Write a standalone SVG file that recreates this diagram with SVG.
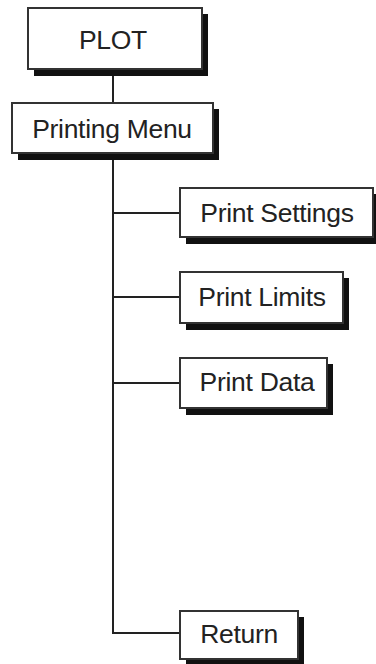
<svg xmlns="http://www.w3.org/2000/svg" width="376" height="664" viewBox="0 0 376 664">
<style>
.box{fill:#fff;stroke:#333;stroke-width:2}
.sh{fill:#111}
.t{font-family:"Liberation Sans",Arial,sans-serif;font-size:26.5px;fill:#222;text-anchor:middle;dominant-baseline:central;letter-spacing:-0.3px}
.c{stroke:#222;stroke-width:2;fill:none}
</style>
<rect width="376" height="664" fill="#fff"/>
<g id="connectors">
<line class="c" x1="113" y1="69" x2="113" y2="103"/>
<polyline class="c" points="113,153 113,633 180,633"/>
<line class="c" x1="113" y1="213" x2="180" y2="213"/>
<line class="c" x1="113" y1="297" x2="180" y2="297"/>
<line class="c" x1="113" y1="383" x2="180" y2="383"/>
</g>
<g id="plot">
<rect class="sh" x="34" y="14" width="174" height="62"/>
<rect class="box" x="28" y="8" width="174" height="61"/>
<text class="t" x="113" y="40">PLOT</text>
</g>
<g id="printing-menu">
<rect class="sh" x="18" y="109" width="201" height="51"/>
<rect class="box" x="12" y="103" width="201" height="50"/>
<text class="t" x="112" y="129">Printing Menu</text>
</g>
<g id="print-settings">
<rect class="sh" x="186" y="194" width="193" height="50"/>
<rect class="box" x="180" y="188" width="193" height="49"/>
<text class="t" x="277" y="213">Print Settings</text>
</g>
<g id="print-limits">
<rect class="sh" x="186" y="278" width="163" height="52"/>
<rect class="box" x="180" y="272" width="163" height="51"/>
<text class="t" x="262" y="297">Print Limits</text>
</g>
<g id="print-data">
<rect class="sh" x="186" y="364" width="147" height="51"/>
<rect class="box" x="180" y="358" width="147" height="50"/>
<text class="t" x="257" y="382">Print Data</text>
</g>
<g id="return">
<rect class="sh" x="186" y="617" width="118" height="48"/>
<rect class="box" x="180" y="611" width="118" height="48"/>
<text class="t" x="239" y="634">Return</text>
</g>
</svg>
